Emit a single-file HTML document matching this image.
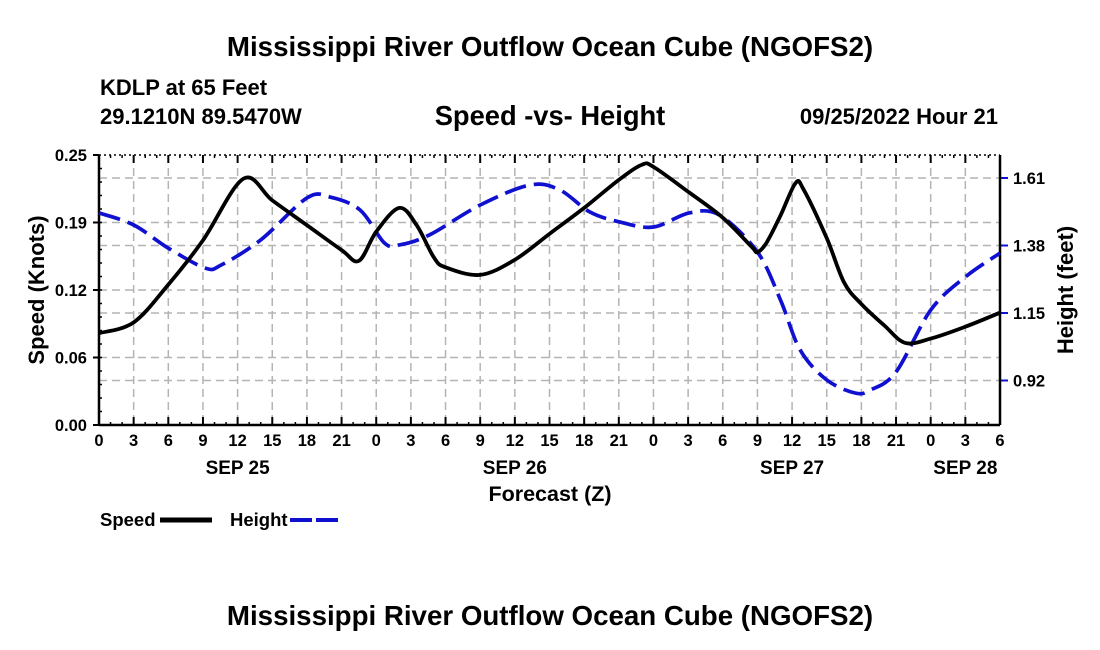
<!DOCTYPE html>
<html><head><meta charset="utf-8"><style>
body{margin:0;background:#fff;}
svg{display:block;font-family:"Liberation Sans",Arial,sans-serif;font-weight:bold;}
</style></head><body>
<svg id="c" width="1100" height="650" viewBox="0 0 1100 650">
<text x="550" y="56" font-size="27.7" text-anchor="middle">Mississippi River Outflow Ocean Cube (NGOFS2)</text>
<text x="100" y="95" font-size="22">KDLP at 65 Feet</text>
<text x="100" y="124" font-size="22">29.1210N  89.5470W</text>
<text x="550" y="125" font-size="27.3" text-anchor="middle">Speed -vs- Height</text>
<text x="998" y="124" font-size="22" text-anchor="end">09/25/2022 Hour 21</text>
<g id="grid"></g>
<g id="axes"></g>
<g id="series"></g>
<text transform="translate(44,290) rotate(-90)" font-size="22" text-anchor="middle">Speed (Knots)</text>
<text transform="translate(1073,290) rotate(-90)" font-size="22" text-anchor="middle">Height (feet)</text>
<text x="550" y="501" font-size="21.5" text-anchor="middle">Forecast (Z)</text>
<g>
<text x="100" y="526" font-size="18.5">Speed</text>
<line x1="160" y1="520" x2="212" y2="520" stroke="#000" stroke-width="5"/>
<text x="230" y="526" font-size="18.5">Height</text>
<line x1="290" y1="520" x2="342" y2="520" stroke="#1010d0" stroke-width="4" stroke-dasharray="22,4"/>
</g>
<text x="550" y="625" font-size="27.7" text-anchor="middle">Mississippi River Outflow Ocean Cube (NGOFS2)</text>
</svg>
<script>
const tickHourLabels=["0","3","6","9","12","15","18","21","0","3","6","9","12","15","18","21","0","3","6","9","12","15","18","21","0","3","6"];
const dayLabels=["SEP 25","SEP 26","SEP 27","SEP 28"];
const dayLabelHours=[12,36,60,75];
const leftTicks=[0,0.0625,0.125,0.1875,0.25];
const leftTickLabels=["0.00","0.06","0.12","0.19","0.25"];
const rightTicks=[0.92,1.15,1.38,1.61];
const rightTickLabels=["0.92","1.15","1.38","1.61"];
const speedHours=[0,3,6,9,12.5,15,18,21,22.5,24,26,27.5,29,30,33,36,39,42,45,47,48,51,54,56.5,57,57.8,59,60.3,61,63,64.5,66,68,69.8,72,75,78];
const speedValues=[0.085,0.095,0.130,0.171,0.228,0.208,0.185,0.162,0.152,0.179,0.201,0.185,0.155,0.146,0.139,0.153,0.177,0.201,0.227,0.241,0.239,0.216,0.192,0.165,0.160,0.169,0.194,0.224,0.218,0.173,0.132,0.112,0.092,0.076,0.080,0.091,0.104];
const heightHours=[0,3,6,9.2,10.6,14,18,20,22.6,24.7,26,28.6,33,37.3,39.9,42.5,45.1,48,51.1,53.7,57,59,60.7,63,65.5,66.8,69,72,75,78];
const heightValues=[1.491,1.450,1.371,1.303,1.314,1.399,1.542,1.545,1.501,1.389,1.382,1.416,1.518,1.586,1.569,1.494,1.460,1.443,1.491,1.484,1.358,1.194,1.024,0.922,0.877,0.888,0.949,1.160,1.273,1.354];
const L=99,R=1000,T=155,B=425;
const x=h=>L+h/78*(R-L);
const yL=v=>B-v/0.25*(B-T);
const yR=v=>178+(1.61-v)/0.23*67.5;
const NS="http://www.w3.org/2000/svg";
function mk(p,t,a){const e=document.createElementNS(NS,t);for(const k in a)e.setAttribute(k,a[k]);p.appendChild(e);return e;}
const grid=document.getElementById('grid'),axes=document.getElementById('axes'),ser=document.getElementById('series');
tickHourLabels.forEach((lab,i)=>{const xx=x(i*3);
 if(i>0&&i<26){const g=mk(grid,'line',{x1:xx,x2:xx,y1:T,y2:B,stroke:'#b4b4b4','stroke-width':1.5,'stroke-dasharray':'8,5'});
 
 }
 mk(axes,'line',{x1:xx,x2:xx,y1:B,y2:B-8,stroke:'#000','stroke-width':2});
 mk(axes,'line',{x1:xx,x2:xx,y1:T,y2:T+8,stroke:'#000','stroke-width':2});
 const t=mk(axes,'text',{x:xx,y:446,'font-size':16.5,'text-anchor':'middle'});t.textContent=lab;
 
 
});
for(let h=1;h<78;h++){if(h%3)mk(axes,'line',{x1:x(h),x2:x(h),y1:T,y2:T+3,stroke:'#000','stroke-width':1.5}),mk(axes,'line',{x1:x(h),x2:x(h),y1:B,y2:B-3,stroke:'#000','stroke-width':1.5});}
dayLabels.forEach((d,i)=>{const t=mk(axes,'text',{x:x(dayLabelHours[i]),y:474,'font-size':19,'text-anchor':'middle'});t.textContent=d;
 
 });
leftTicks.forEach((v,i)=>{const yy=yL(v);
 if(i>0&&i<4){const g=mk(grid,'line',{x1:L,x2:R,y1:yy,y2:yy,stroke:'#b4b4b4','stroke-width':1.5,'stroke-dasharray':'8,5'});
 
 }
 mk(axes,'line',{x1:L-6,x2:L,y1:yy,y2:yy,stroke:'#000','stroke-width':2});
 const t=mk(axes,'text',{x:L-12,y:yy+6,'font-size':16.5,'text-anchor':'end'});t.textContent=leftTickLabels[i];
 
 });
for(let k=1;k<20;k++){const yy=B-k*(B-T)/20;mk(axes,'line',{x1:L,x2:L+3,y1:yy,y2:yy,stroke:'#000','stroke-width':1.5});}
rightTicks.forEach((v,i)=>{const yy=yR(v);
 const g=mk(grid,'line',{x1:L,x2:R,y1:yy,y2:yy,stroke:'#b4b4b4','stroke-width':1.5,'stroke-dasharray':'8,5'});
 
 
 mk(axes,'line',{x1:R,x2:R+8,y1:yy,y2:yy,stroke:'#1010d0','stroke-width':2});
 const t=mk(axes,'text',{x:R+13,y:yy+6,'font-size':16.5});t.textContent=rightTickLabels[i];
 
 });
mk(axes,'line',{x1:L,x2:L,y1:T,y2:B,stroke:'#000','stroke-width':2.5});
mk(axes,'line',{x1:R,x2:R,y1:T,y2:B,stroke:'#000','stroke-width':2.5});
mk(axes,'line',{x1:L,x2:R,y1:B,y2:B,stroke:'#000','stroke-width':2.5});
mk(axes,'line',{x1:L,x2:R,y1:T,y2:T,stroke:'#000','stroke-width':1.5,'stroke-dasharray':'2,3'});
function path(xs,ys){const p=xs.map((h,i)=>[h,ys[i]]);let d='M'+p[0][0]+','+p[0][1];
 for(let i=0;i<p.length-1;i++){const p0=p[i-1]||p[i],p1=p[i],p2=p[i+1],p3=p[i+2]||p2;
 d+=' C'+(p1[0]+(p2[0]-p0[0])/6)+','+(p1[1]+(p2[1]-p0[1])/6)+' '+(p2[0]-(p3[0]-p1[0])/6)+','+(p2[1]-(p3[1]-p1[1])/6)+' '+p2[0]+','+p2[1];}
 return d;}
const hp=mk(ser,'path',{d:path(heightHours.map(x),heightValues.map(yR)),fill:'none',stroke:'#1010d0','stroke-width':3.7,'stroke-dasharray':'22,8'});


const sp=mk(ser,'path',{d:path(speedHours.map(x),speedValues.map(yL)),fill:'none',stroke:'#000','stroke-width':3.8});


</script>
</body></html>
